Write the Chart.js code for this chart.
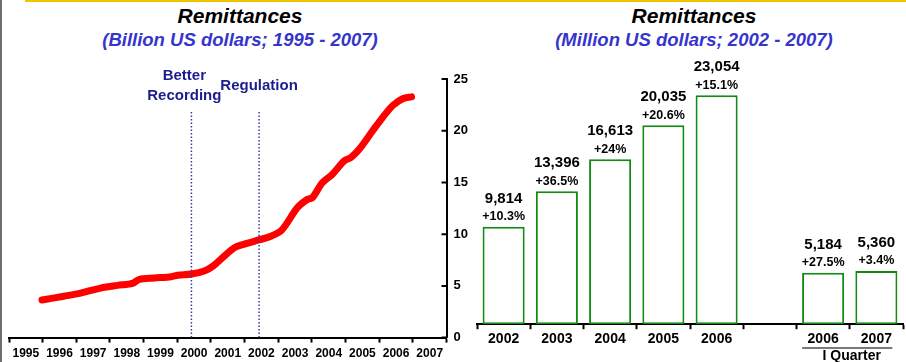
<!DOCTYPE html>
<html>
<head>
<meta charset="utf-8">
<script src="https://cdn.jsdelivr.net/npm/chart.js@4.4.0/dist/chart.umd.min.js"></script>
<style>
  html, body { margin: 0; padding: 0; background: #fff; }
  body { width: 906px; height: 362px; position: relative; overflow: hidden; font-family: "Liberation Sans", Arial, sans-serif; }
  .topline { position: absolute; left: 25px; right: 0; top: 0; height: 2px; background: #f2c400; }
  .edge { position: absolute; left: 0; top: 0; bottom: 0; width: 2px; background: #6f6f6f; }
  .head { position: absolute; width: 340px; text-align: center; font-weight: bold; font-style: italic; }
  .head .main { font-size: 21px; line-height: 24px; margin-top: 4px; color: #000; }
  .head .sub { font-size: 18.5px; line-height: 23px; color: #3535cc; }
  #left { position: absolute; left: 0; top: 0; }
  #right { position: absolute; left: 470px; top: 0; }
</style>
</head>
<body>
<div class="topline"></div>
<div class="edge"></div>
<div class="head" style="left:70px"><div class="main">Remittances</div><div class="sub">(Billion US dollars; 1995 - 2007)</div></div>
<div class="head" style="left:524px"><div class="main">Remittances</div><div class="sub">(Million US dollars; 2002 - 2007)</div></div>
<canvas id="left" width="480" height="368"></canvas>
<canvas id="right" width="436" height="362"></canvas>
<script>
// left chart: yearly remittances, billion USD
const years = ["1995", "1996", "1997", "1998", "1999", "2000", "2001", "2002", "2003", "2004", "2005", "2006", "2007"];
const lineYears = [1995.98, 1996.63, 1997.13, 1997.72, 1998.22, 1998.67, 1998.87, 1999.32, 1999.82, 2000.02,
  2000.42, 2000.82, 2001.07, 2001.37, 2001.72, 2002.07, 2002.42, 2002.76, 2003.11, 2003.56,
  2003.86, 2004.01, 2004.31, 2004.61, 2004.96, 2005.16, 2005.41, 2005.81, 2006.11, 2006.41, 2006.71, 2006.96];
const lineValues = [3.64, 4.00, 4.30, 4.79, 5.05, 5.24, 5.63, 5.76, 5.89, 6.03,
  6.15, 6.47, 6.93, 7.81, 8.74, 9.11, 9.44, 9.77, 10.42, 12.53,
  13.35, 13.51, 14.97, 15.79, 17.09, 17.41, 18.23, 20.02, 21.32, 22.46, 23.12, 23.27];
const eventYears = [2000.42, 2002.43];
const eventLabelYears = [2000.21, 2002.43];
const eventLabels = [["Better", "Recording"], ["Regulation"]];

// right chart: million USD
const barLabels = ["2002", "2003", "2004", "2005", "2006", "", "2006", "2007"];
const barValues = [9814, 13396, 16613, 20035, 23054, null, 5184, 5360];
const barGrowth = ["+10.3%", "+36.5%", "+24%", "+20.6%", "+15.1%", "", "+27.5%", "+3.4%"];
const quarterIndexes = [6, 7];
const quarterLabel = "I Quarter";

const FONT = "'Liberation Sans', Arial, sans-serif";
Chart.defaults.font.family = FONT;
Chart.defaults.color = "#000";

const yInwardTicks = {
  id: "yInwardTicks",
  afterDraw(chart) {
    const ys = chart.scales.y;
    const ctx = chart.ctx;
    ctx.save();
    ctx.strokeStyle = "#000";
    ctx.lineWidth = 2;
    ctx.beginPath();
    ys.ticks.forEach(t => {
      const py = ys.getPixelForValue(t.value);
      ctx.moveTo(ys.left, py);
      ctx.lineTo(ys.left - 5, py);
    });
    ctx.stroke();
    ctx.restore();
  }
};

const events = {
  id: "events",
  afterDatasetsDraw(chart) {
    const { ctx, chartArea } = chart;
    const xs = chart.scales.xYears;
    ctx.save();
    eventYears.forEach((yr, i) => {
      const px = xs.getPixelForValue(yr);
      ctx.strokeStyle = "#3a3aa6";
      ctx.lineWidth = 1.5;
      ctx.setLineDash([1.5, 2]);
      ctx.beginPath();
      ctx.moveTo(px, chartArea.top + 33);
      ctx.lineTo(px, chartArea.bottom);
      ctx.stroke();

      const lx = xs.getPixelForValue(eventLabelYears[i]);
      const lines = eventLabels[i];
      ctx.fillStyle = "#1c1c8e";
      ctx.font = "bold 15px " + FONT;
      ctx.textAlign = "center";
      ctx.textBaseline = "middle";
      lines.forEach((s, j) => {
        ctx.fillText(s, lx, chartArea.top + 7 - (lines.length - 1) * 10 + j * 20);
      });
    });
    ctx.restore();
  }
};

new Chart(document.getElementById("left"), {
  type: "line",
  data: {
    labels: years,
    datasets: [{
      data: lineYears.map((x, i) => ({ x: x, y: lineValues[i] })),
      xAxisID: "xYears",
      yAxisID: "y",
      borderColor: "#ff0000",
      borderWidth: 7,
      borderCapStyle: "round",
      borderJoinStyle: "round",
      tension: 0.3,
      pointRadius: 0,
      fill: false
    }]
  },
  options: {
    responsive: false,
    devicePixelRatio: 1,
    animation: false,
    layout: { padding: { left: 9, right: 5, top: 79, bottom: 3 } },
    plugins: { legend: { display: false }, tooltip: { enabled: false } },
    scales: {
      x: {
        type: "category",
        offset: true,
        grid: { offset: true, drawOnChartArea: false, tickLength: 5, tickWidth: 2, tickColor: "#000" },
        border: { display: true, color: "#000", width: 2 },
        ticks: { font: { size: 12, weight: "bold" }, padding: 4, maxRotation: 0, autoSkip: false, color: "#000" }
      },
      xYears: { type: "linear", axis: "x", display: false, min: 1995, max: 2008 },
      y: {
        position: "right",
        min: 0,
        max: 25,
        ticks: { stepSize: 5, font: { size: 13, weight: "bold" }, padding: 7, color: "#000" },
        grid: { drawOnChartArea: false, drawTicks: false },
        border: { display: true, color: "#000", width: 2 }
      }
    }
  },
  plugins: [yInwardTicks, events]
});

const barNotes = {
  id: "barNotes",
  afterDatasetsDraw(chart) {
    const ctx = chart.ctx;
    const meta = chart.getDatasetMeta(0);
    ctx.save();
    ctx.fillStyle = "#000";
    ctx.textAlign = "center";
    ctx.textBaseline = "middle";
    meta.data.forEach((bar, i) => {
      if (barValues[i] == null) return;
      ctx.font = "bold 15px " + FONT;
      ctx.fillText(barValues[i].toLocaleString("en-US"), bar.x, bar.y - 28);
      ctx.font = "bold 12.5px " + FONT;
      ctx.fillText(barGrowth[i], bar.x, bar.y - 10);
    });
    ctx.restore();
  }
};

const quarterGroup = {
  id: "quarterGroup",
  afterDraw(chart) {
    const ctx = chart.ctx;
    const xs = chart.scales.x;
    const a = xs.getPixelForTick(quarterIndexes[0]);
    const b = xs.getPixelForTick(quarterIndexes[quarterIndexes.length - 1]);
    ctx.save();
    ctx.strokeStyle = "#7a7a7a";
    ctx.lineWidth = 2;
    ctx.beginPath();
    ctx.moveTo(a - 21, chart.height - 14);
    ctx.lineTo(b + 16, chart.height - 14);
    ctx.stroke();
    ctx.fillStyle = "#000";
    ctx.font = "bold 14px " + FONT;
    ctx.textAlign = "center";
    ctx.textBaseline = "middle";
    ctx.fillText(quarterLabel, (a + b) / 2 + 2, chart.height - 6);
    ctx.restore();
  }
};

new Chart(document.getElementById("right"), {
  type: "bar",
  data: {
    labels: barLabels,
    datasets: [{
      data: barValues,
      backgroundColor: "#ffffff",
      borderColor: "#138a13",
      borderWidth: 2,
      borderSkipped: false,
      categoryPercentage: 1,
      barPercentage: 0.79
    }]
  },
  options: {
    responsive: false,
    devicePixelRatio: 1,
    animation: false,
    layout: { padding: { left: 7, right: 3, top: 66, bottom: 12 } },
    plugins: { legend: { display: false }, tooltip: { enabled: false } },
    scales: {
      x: {
        offset: true,
        grid: { offset: true, drawOnChartArea: false, tickLength: 5, tickWidth: 2, tickColor: "#000" },
        border: { display: true, color: "#000", width: 2 },
        ticks: { font: { size: 14, weight: "bold" }, padding: 2, maxRotation: 0, autoSkip: false, color: "#000" }
      },
      y: { display: false, min: 0, max: 26000 }
    }
  },
  plugins: [barNotes, quarterGroup]
});
</script>
</body>
</html>
